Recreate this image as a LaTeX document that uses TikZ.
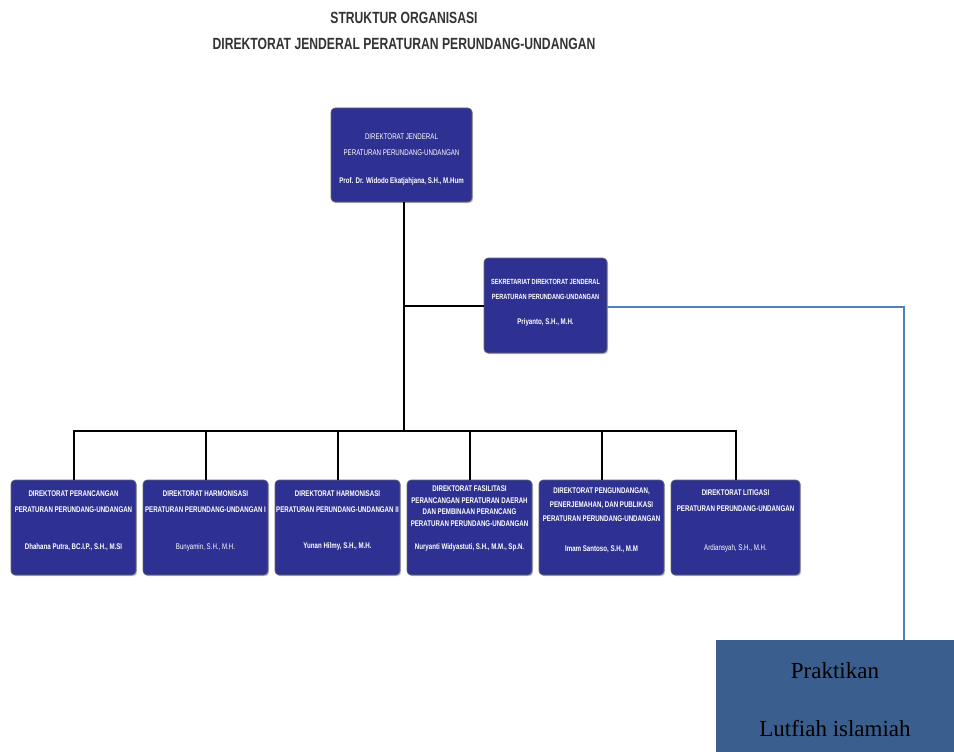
\documentclass[tikz,border=0pt]{standalone}
\usepackage{fontspec}
\setmainfont{Liberation Serif}
\newfontfamily\orgfont[FakeStretch=0.75]{Liberation Sans}
\usetikzlibrary{shadows}
\definecolor{DirBlue}{HTML}{2E3192}
\definecolor{LinkBlue}{HTML}{4F81BD}
\definecolor{TraineeBlue}{HTML}{3A5F8E}
\tikzset{
  org/box/.style={draw=black!60, line width=0.6pt, fill=DirBlue, rounded corners=4pt, minimum width=125pt, minimum height=95pt,
    drop shadow={shadow xshift=1.2pt, shadow yshift=-1.2pt, fill=black!45}},
  org/head/.style={text=white, align=center, inner sep=0pt, font=\orgfont\bfseries\fontsize{8.2}{16}\selectfont},
  org/name/.style={text=white, align=center, inner sep=0pt, font=\orgfont\bfseries\fontsize{8.2}{10}\selectfont},
  org/plain/.style={font=\orgfont\fontsize{8.2}{10}\selectfont},
  org/line/.style={line width=2pt},
  org/link/.style={draw=LinkBlue, line width=1.4pt},
  org/trainee/.style={fill=TraineeBlue, minimum width=238pt, minimum height=112pt, align=center, inner sep=0pt,
    font=\fontsize{23}{58}\selectfont},
  org/title/.style={text=black!80, align=center, inner sep=0pt, font=\orgfont\bfseries\fontsize{16.2}{26}\selectfont}
}

\begin{document}
\begin{tikzpicture}[x=1pt, y=-1pt]
  \useasboundingbox (0,0) rectangle (954,752);
  % judul
  \node[org/title] (title) at (404,31) {STRUKTUR ORGANISASI\\DIREKTORAT JENDERAL PERATURAN PERUNDANG-UNDANGAN};

  % pimpinan dan sekretariat
  \node[org/box, minimum width=141pt, minimum height=94pt] (dirjen) at (401.5,155) {};
  \node[org/head, font=\orgfont\fontsize{8.2}{16}\selectfont] (dirjen-head) at (401.5,145) {DIREKTORAT JENDERAL\\PERATURAN PERUNDANG-UNDANGAN};
  \node[org/name] (dirjen-name) at (401.5,181) {Prof. Dr. Widodo Ekatjahjana, S.H., M.Hum};

  \node[org/box, minimum width=123pt] (sek) at (545.5,305.5) {};
  \node[org/head, font=\orgfont\bfseries\fontsize{7.5}{15}\selectfont] (sek-head) at (545.5,289.5) {SEKRETARIAT DIREKTORAT JENDERAL\\PERATURAN PERUNDANG-UNDANGAN};
  \node[org/name] (sek-name) at (545.5,322) {Priyanto, S.H., M.H.};

  % direktorat
  \node[org/box] (d1) at (73.5,527.5) {};
  \node[org/head] (d1-head) at (73.5,501.5) {DIREKTORAT PERANCANGAN\\PERATURAN PERUNDANG-UNDANGAN};
  \node[org/name] (d1-name) at (73.5,547) {Dhahana Putra, BC.I.P., S.H., M.SI};

  \node[org/box] (d2) at (205.5,527.5) {};
  \node[org/head] (d2-head) at (205.5,501.5) {DIREKTORAT HARMONISASI\\PERATURAN PERUNDANG-UNDANGAN I};
  \node[org/name, org/plain] (d2-name) at (205.5,547) {Bunyamin, S.H., M.H.};

  \node[org/box] (d3) at (337.5,527.5) {};
  \node[org/head] (d3-head) at (337.5,501.5) {DIREKTORAT HARMONISASI\\PERATURAN PERUNDANG-UNDANGAN II};
  \node[org/name] (d3-name) at (337.5,546) {Yunan Hilmy, S.H., M.H.};

  \node[org/box] (d4) at (469.5,527.5) {};
  \node[org/head, font=\orgfont\bfseries\fontsize{8.2}{11.5}\selectfont] (d4-head) at (469.5,506) {DIREKTORAT FASILITASI\\PERANCANGAN PERATURAN DAERAH\\DAN PEMBINAAN PERANCANG\\PERATURAN PERUNDANG-UNDANGAN};
  \node[org/name] (d4-name) at (469.5,547) {Nuryanti Widyastuti, S.H., M.M., Sp.N.};

  \node[org/box] (d5) at (601.5,527.5) {};
  \node[org/head, font=\orgfont\bfseries\fontsize{8.2}{14}\selectfont] (d5-head) at (601.5,504.5) {DIREKTORAT PENGUNDANGAN,\\PENERJEMAHAN, DAN PUBLIKASI\\PERATURAN PERUNDANG-UNDANGAN};
  \node[org/name] (d5-name) at (601.5,549) {Imam Santoso, S.H., M.M};

  \node[org/box, minimum width=129pt] (d6) at (735.5,527.5) {};
  \node[org/head] (d6-head) at (735.5,500.5) {DIREKTORAT LITIGASI\\PERATURAN PERUNDANG-UNDANGAN};
  \node[org/name, org/plain] (d6-name) at (735.5,548) {Ardiansyah, S.H., M.H.};

  % praktikan
  \node[org/trainee] (praktikan) at (835,696) {\rule{0pt}{23pt}Praktikan\\Lutfiah islamiah};

  % garis
  \coordinate (bus) at (404,431);
  \draw[org/line] (bus |- dirjen.south) -- (bus);
  \draw[org/line] (sek.west) -- (sek.west -| bus);
  \foreach \d in {d1,d2,d3,d4,d5,d6}
    \draw[org/line] (\d.north) |- (bus);
  \coordinate (elbow) at (904,307);
  \draw[org/link] (sek.east |- elbow) -- (elbow) -- (elbow |- praktikan.north);
\end{tikzpicture}
\end{document}
